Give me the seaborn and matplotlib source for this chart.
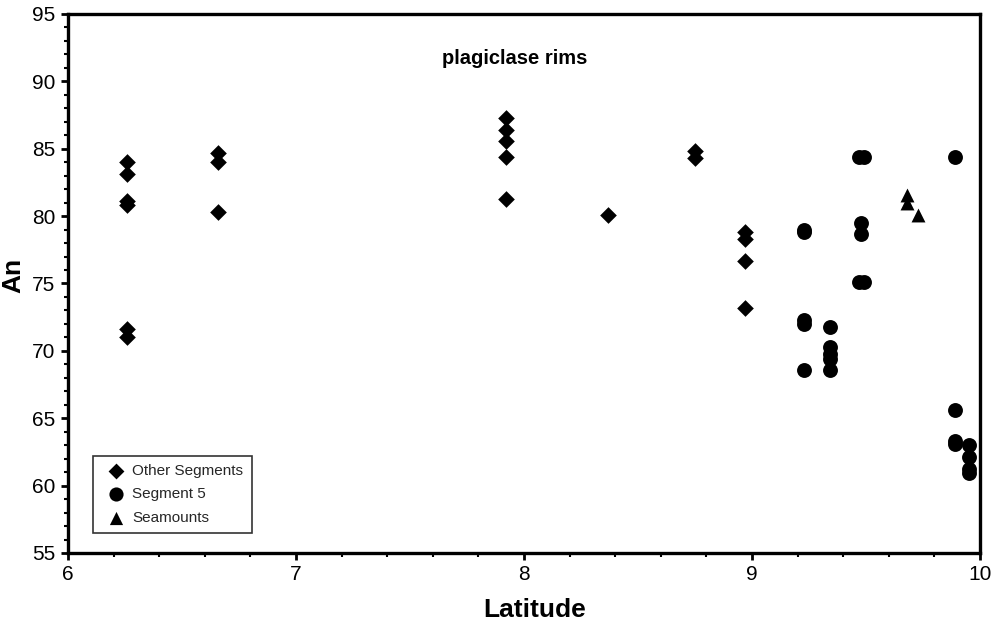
import matplotlib
matplotlib.use("Agg")
import matplotlib.pyplot as plt
import seaborn as sns
import pandas as pd
from matplotlib.ticker import MultipleLocator

# ---- data ----
other_lat = [6.26, 6.26, 6.26, 6.26, 6.26, 6.26,
             6.66, 6.66, 6.66,
             7.92, 7.92, 7.92, 7.92, 7.92,
             8.37,
             8.75, 8.75,
             8.97, 8.97, 8.97, 8.97]
other_an = [84.0, 83.1, 81.1, 80.8, 71.6, 71.0,
            84.7, 84.0, 80.3,
            87.3, 86.4, 85.6, 84.4, 81.3,
            80.1,
            84.8, 84.3,
            78.8, 78.3, 76.7, 73.2]

seg5_lat = [9.23, 9.23, 9.23, 9.23, 9.23,
            9.34, 9.34, 9.34, 9.34, 9.34,
            9.47, 9.49, 9.48, 9.48, 9.47, 9.49,
            9.89, 9.89, 9.89, 9.89,
            9.95, 9.95, 9.95, 9.95]
seg5_an = [79.0, 78.8, 72.3, 72.0, 68.6,
           71.8, 70.3, 69.8, 69.4, 68.6,
           84.4, 84.4, 79.5, 78.7, 75.1, 75.1,
           84.4, 65.6, 63.3, 63.1,
           63.0, 62.1, 61.2, 60.9]

sea_lat = [9.68, 9.68, 9.73]
sea_an = [81.6, 81.0, 80.1]

groups = ["Other Segments", "Segment 5", "Seamounts"]
x_ticks = [6, 7, 8, 9, 10]
y_ticks = [55, 60, 65, 70, 75, 80, 85, 90, 95]

sns.set_theme(style="white")
plt.rcParams["font.family"] = ["Liberation Sans", "DejaVu Sans"]

fig = plt.figure(figsize=(9.96, 6.29), dpi=100)
ax = fig.add_axes([68 / 996, 1 - 553 / 629, 912 / 996, 539 / 629])

series = [
    (other_lat, other_an, groups[0], "D", 72),
    (seg5_lat, seg5_an, groups[1], "o", 115),
    (sea_lat, sea_an, groups[2], "^", 100),
]
for xs, ys, name, mk, sz in series:
    d = pd.DataFrame({"Latitude": xs, "An": ys})
    sns.scatterplot(data=d, x="Latitude", y="An", marker=mk, s=sz,
                    color="black", edgecolor="black", linewidth=0,
                    label=name, ax=ax)

ax.set_xlim(6, 10)
ax.set_ylim(55, 95)
ax.set_xticks(x_ticks)
ax.set_yticks(y_ticks)
ax.xaxis.set_minor_locator(MultipleLocator(0.2))
ax.yaxis.set_minor_locator(MultipleLocator(1))
ax.tick_params(axis="both", which="major", direction="out", length=5, width=2,
               color="black", labelsize=15, labelcolor="black", pad=4,
               bottom=True, left=True)
ax.tick_params(axis="both", which="minor", direction="out", length=3, width=1.5,
               color="black", bottom=True, left=True)
for sp in ax.spines.values():
    sp.set_linewidth(2.4)
    sp.set_color("black")

ax.set_xlabel("Latitude", fontsize=19, fontweight="bold", color="black", labelpad=0)
ax.xaxis.set_label_coords(0.512, -0.083)
ax.set_ylabel("An", fontsize=19, fontweight="bold", color="black")
ax.yaxis.set_label_coords(-0.047, 0.515)

ax.text(0.49, 0.918, "plagiclase rims", transform=ax.transAxes, ha="center",
        va="center", fontsize=14.5, fontweight="bold", color="black")

handles, labels = ax.get_legend_handles_labels()
leg = ax.legend(handles=handles, labels=labels, loc="lower left",
                bbox_to_anchor=(0.027, 0.037), frameon=True, fancybox=False,
                edgecolor="black", fontsize=11, handletextpad=0.05,
                borderpad=0.55, labelspacing=0.6, markerscale=0.95,
                handlelength=2.0, borderaxespad=0)
leg.get_frame().set_linewidth(1.2)

fig.savefig("out.png", dpi=100)
